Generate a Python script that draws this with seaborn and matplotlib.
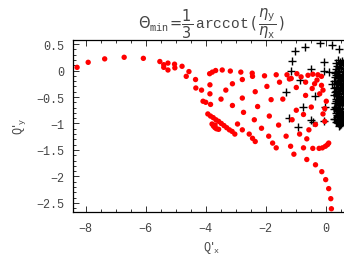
import numpy as np
import pandas as pd
import matplotlib
matplotlib.use("Agg")
import matplotlib.pyplot as plt
from matplotlib.ticker import MultipleLocator
import seaborn as sns

# red points: Q'x, Q'y
red_x = [-8.29, -7.92, -7.37, -6.72, -6.08, -5.53, -5.40, -5.26, -5.40, -5.26,
         -5.04, -5.03, -4.79, -4.56, -4.65, -4.34, -4.33, -4.14, -4.09, -4.00,
         -3.84,
         -3.93, -3.84, -3.75, -3.66, -3.57, -3.48, -3.39, -3.30, -3.21, -3.12, -3.03,
         -3.79, -3.74, -3.69, -3.64, -3.57, -3.69,
         -3.87, -3.78, -3.67, -3.45, -3.18, -2.83, -2.45, -2.44, -2.04, -1.65, -1.29,
         -3.86, -3.86, -3.11, -2.78, -2.35, -1.96, -1.54, -1.21,
         -3.33, -3.49, -3.11, -2.78, -2.27, -1.82, -1.43,
         -2.74, -2.38, -1.88, -1.57, -2.14, -2.94, -2.78,
         -2.55, -2.44, -2.35, -1.90, -1.77, -1.65, -1.32, -1.17, -1.06, -0.87,
         -0.56, -0.74, -0.43, -0.22, -0.11, -0.01, 0.06, 0.10,
         -0.63, -0.34, -0.13, 0.00, 0.10, 0.17, 0.19,
         -0.96, -0.82, -0.59, -0.43, -0.26, -0.14, -1.15, -0.98, -0.67, -0.45,
         -0.29, -0.14, -0.09, -0.37, -0.67, -0.20, -0.98, -0.48, -0.03, 0.02,
         -0.74, -0.09, -1.12, -0.34, -0.03, -0.63]
red_y = [0.06, 0.155, 0.22, 0.25, 0.23, 0.17, 0.11, 0.14, 0.06, 0.01,
         0.12, 0.05, 0.08, -0.02, -0.11, -0.17, -0.33, -0.37, -0.58, -0.60,
         -0.64,
         -0.82, -0.86, -0.89, -0.93, -0.96, -1.00, -1.04, -1.08, -1.12, -1.15, -1.20,
         -1.01, -1.05, -1.08, -1.10, -1.11, -1.03,
         -0.06, -0.03, 0.00, 0.01, -0.01, -0.03, -0.05, -0.11, -0.10, -0.08, -0.08,
         -0.27, -0.44, -0.25, -0.17, -0.40, -0.30, -0.22, -0.16,
         -0.37, -0.54, -0.66, -0.52, -0.68, -0.55, -0.54,
         -0.79, -0.93, -0.86, -1.03, -1.09, -1.01, -1.12,
         -1.20, -1.28, -1.34, -1.24, -1.37, -1.46, -1.24, -1.43, -1.58, -1.20,
         -1.12, -1.46, -1.47, -1.47, -1.46, -1.43, -1.40, -1.37,
         -1.68, -1.78, -1.91, -2.06, -2.23, -2.42, -2.61,
         -0.06, -0.12, -0.09, -0.07, -0.08, -0.11, -0.15, -0.32, -0.22, -0.34,
         -0.18, -0.28, -0.37, -0.25, -0.47, -0.44, -0.75, -0.69, -0.72, -0.58,
         -0.83, -0.82, -0.93, -1.02, -0.96, -1.29]

# black crosses: scattered ones around the blob
cross_x = [-1.04, -0.70, -0.20, 0.20, 0.43, -1.12, -0.06, -1.15, -0.48, -0.06,
           0.22, -0.87, -1.34, -0.34, -0.76, -0.01, -1.21, -0.48, -0.43, -0.91,
           -0.07, 0.27, 0.10]
cross_y = [0.36, 0.44, 0.52, 0.48, 0.40, 0.18, 0.16, 0.00, 0.03, 0.00,
           -0.25, -0.17, -0.41, -0.48, -0.69, -0.69, -0.90, -0.93, -0.97, -1.06,
           -0.95, -0.92, -0.02]

# the dense blob of crosses at the right edge
blob_x = [0.42, 0.55, 0.35, 0.50, 0.38, 0.52, 0.33, 0.46, 0.58, 0.30,
          0.41, 0.53, 0.32, 0.45, 0.57, 0.28, 0.40, 0.51, 0.34, 0.47,
          0.58, 0.29, 0.42, 0.54, 0.31, 0.45, 0.57, 0.27, 0.39, 0.52,
          0.33, 0.46, 0.58, 0.30, 0.42, 0.55, 0.35, 0.48, 0.29, 0.41,
          0.54, 0.33, 0.46, 0.58, 0.37, 0.50, 0.32, 0.44, 0.56, 0.40,
          0.52, 0.45,
          0.48, 0.62, 0.44, 0.60, 0.36, 0.64, 0.49, 0.39, 0.61, 0.36,
          0.63, 0.48, 0.37, 0.65, 0.50, 0.38, 0.62, 0.44, 0.36, 0.60,
          0.51, 0.39, 0.63, 0.47, 0.37, 0.61, 0.49, 0.40, 0.64, 0.50,
          0.42, 0.62, 0.47, 0.38, 0.60, 0.49,
          0.34, 0.40, 0.46, 0.52, 0.58, 0.64, 0.33, 0.39, 0.45, 0.51,
          0.57, 0.63, 0.32, 0.38, 0.44, 0.50, 0.56, 0.62, 0.34, 0.40,
          0.46, 0.52, 0.58, 0.64, 0.35, 0.41, 0.47, 0.53, 0.59, 0.43]
blob_y = [0.20, 0.18, 0.14, 0.12, 0.08, 0.05, 0.02, 0.00, -0.02, -0.05,
          -0.07, -0.09, -0.12, -0.14, -0.16, -0.19, -0.21, -0.23, -0.26, -0.28,
          -0.30, -0.33, -0.35, -0.37, -0.40, -0.42, -0.44, -0.47, -0.49, -0.51,
          -0.54, -0.56, -0.58, -0.61, -0.63, -0.65, -0.68, -0.70, -0.73, -0.75,
          -0.77, -0.80, -0.82, -0.84, -0.87, -0.89, -0.92, -0.94, -0.96, -0.99,
          -1.01, -1.05,
          0.16, 0.10, 0.04, -0.01, -0.08, -0.11, -0.17, -0.24, -0.27, -0.31,
          -0.36, -0.39, -0.45, -0.48, -0.53, -0.57, -0.60, -0.66, -0.71, -0.72,
          -0.78, -0.84, -0.86, -0.91, -0.97, -0.98, -1.03, -0.06, -0.20, -0.33,
          -0.43, -0.52, -0.62, -0.76, -0.91, -0.12,
          -0.03, -0.10, -0.15, -0.20, -0.25, -0.29, -0.38, -0.44, -0.50, -0.55,
          -0.59, -0.64, -0.69, -0.74, -0.79, -0.85, -0.88, -0.94, -0.97, -0.01,
          0.07, 0.12, 0.15, 0.02, -0.58, -0.66, -0.72, -0.81, -0.93, -1.00]

x_ticks = [-8, -6, -4, -2, 0]
y_ticks = [0.5, 0, -0.5, -1, -1.5, -2, -2.5]

red = pd.DataFrame({"qx": red_x, "qy": red_y})
crosses = pd.DataFrame({"qx": cross_x + blob_x, "qy": cross_y + blob_y})

sns.set_style("ticks")
plt.rcParams["font.family"] = ["Liberation Mono", "DejaVu Sans Mono"]
plt.rcParams["mathtext.fontset"] = "custom"
plt.rcParams["mathtext.rm"] = "DejaVu Sans"
plt.rcParams["mathtext.it"] = "DejaVu Sans:italic"
plt.rcParams["mathtext.tt"] = "Liberation Mono"

fig = plt.figure(figsize=(3.44, 2.55), dpi=100)
ax = fig.add_axes([0.211, 0.165, 0.809, 0.676])

sns.scatterplot(data=crosses, x="qx", y="qy", marker="+", color="black",
                s=28, linewidth=1.0, ax=ax, zorder=2)
sns.scatterplot(data=red, x="qx", y="qy", color="#ff0000", s=15,
                edgecolor="none", ax=ax, zorder=3)

ax.set_xlim(-8.44, 0.84)
ax.set_ylim(-2.67, 0.585)
ax.set_xticks(x_ticks)
ax.set_xticklabels(["\u22128", "\u22126", "\u22124", "\u22122", "0"])
ax.set_yticks(y_ticks)
ax.set_yticklabels(["0.5", "0", "\u22120.5", "\u22121", "\u22121.5", "\u22122", "\u22122.5"])
ax.xaxis.set_minor_locator(MultipleLocator(0.5))
ax.yaxis.set_minor_locator(MultipleLocator(0.1))
ax.tick_params(which="both", direction="in", top=True, right=True,
               colors="#333333", labelcolor="#444444", labelsize=8.5, width=0.7)
ax.tick_params(which="major", length=4)
ax.tick_params(which="minor", length=2)
ax.tick_params(axis="y", pad=6)
ax.tick_params(axis="x", pad=7)
for sp in ax.spines.values():
    sp.set_color("black")
    sp.set_linewidth(0.9)

ax.set_xlabel(r"Q$'_{\mathtt{x}}$", color="#444444", fontsize=8.5, labelpad=4)
ax.set_ylabel(r"Q$'_{\mathtt{y}}$", color="#444444", fontsize=8.5, labelpad=6)
ax.set_title(r"$\Theta_{\mathtt{min}}\!=\!\dfrac{1}{3}\,\mathtt{arccot}\,(\,\dfrac{\eta_{\mathtt{y}}}{\eta_{\mathtt{x}}}\,)$",
             color="#444444", fontsize=10.5, pad=3)

fig.savefig("out.png", dpi=100)
